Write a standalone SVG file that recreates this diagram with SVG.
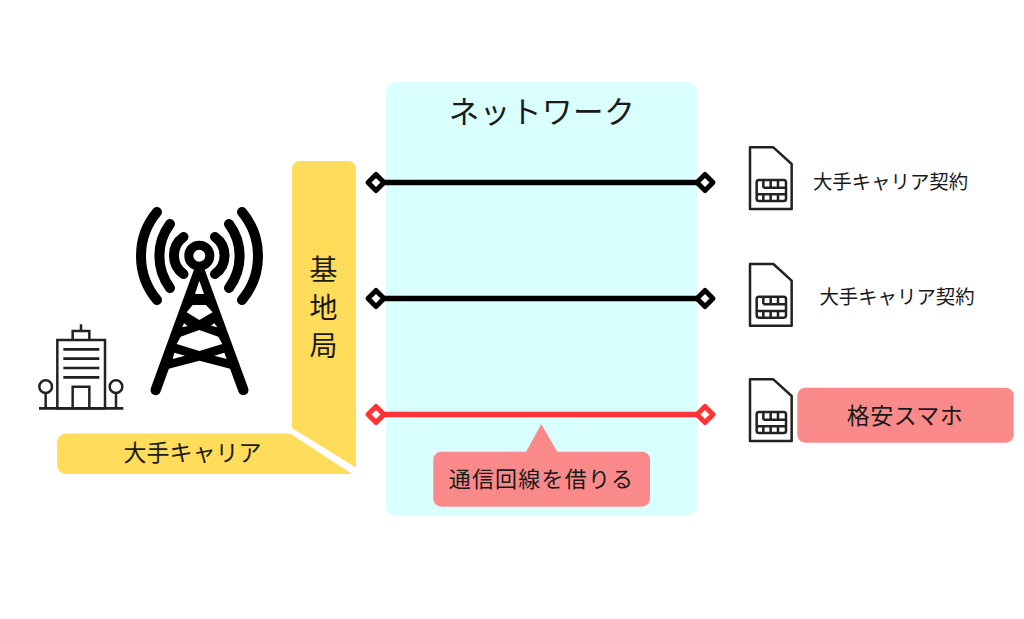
<svg xmlns="http://www.w3.org/2000/svg" xmlns:xlink="http://www.w3.org/1999/xlink" width="1024" height="619" viewBox="0 0 1024 619">
<style>
text{font-family:"Noto Sans CJK JP","Noto Sans",sans-serif;fill:#1a1a1a;text-anchor:middle}
.yellow{fill:#ffdc5a}
.pink{fill:#fa8a8a}
.line{stroke-width:5.500;fill:none}
.dia{fill:#fff;stroke-width:5;stroke-linejoin:round}
.k{stroke:#000}
.r{stroke:#ff3333}
.arc{fill:none;stroke:#000;stroke-width:10;stroke-linecap:round}
</style>
<defs>
<symbol id="sim" overflow="visible">
<path d="M180 22H250L305 72V207H180Z" transform="translate(-180 -22)" fill="#fff" stroke="#222" stroke-width="7.500" stroke-linejoin="round"/>
<g transform="translate(-180 -22)" fill="none" stroke="#222" stroke-width="7.500">
<rect x="200" y="120" width="88" height="63" rx="7"/>
<path d="M220 143H288M200 163H288M220 120V143M242 120V143M264 120V143M220 163V183M242 163V183M264 163V183"/>
</g>
</symbol>
</defs>
<rect width="1024" height="619" fill="#fff"/>
<g id="network">
<rect x="386" y="82" width="311" height="434" rx="10" fill="#d9ffff"/>
<text x="542" y="122.500" font-size="30.500" letter-spacing="0.600">ネットワーク</text>
</g>
<g id="connectors">
<path class="line k" d="M376 182.500H705M376 298.500H705"/>
<path class="line r" d="M376 414.500H705"/>
<g class="k">
<path class="dia" d="M376 174.500l8 8-8 8-8-8Z"/>
<path class="dia" d="M705 174.500l8 8-8 8-8-8Z"/>
<path class="dia" d="M376 290.500l8 8-8 8-8-8Z"/>
<path class="dia" d="M705 290.500l8 8-8 8-8-8Z"/>
</g>
<g class="r">
<path class="dia" d="M376 406.500l8 8-8 8-8-8Z"/>
<path class="dia" d="M705 406.500l8 8-8 8-8-8Z"/>
</g>
</g>
<g id="tower">
<circle cx="199.300" cy="255.700" r="10.500" fill="none" stroke="#000" stroke-width="9"/>
<path class="arc" d="M183.500 237A22.700 22.700 0 0 0 183.500 274M215 237A22.700 22.700 0 0 1 215 274"/>
<path class="arc" d="M170 224A53.500 53.500 0 0 0 170 288M229 224A53.500 53.500 0 0 1 229 288"/>
<path class="arc" d="M157 212A68.500 68.500 0 0 0 157 300M242 212A68.500 68.500 0 0 1 242 300"/>
<g transform="translate(20 190) scale(.33333)">
<path d="M538 240L407 600M538 240L670 600" fill="none" stroke="#000" stroke-width="31" stroke-linecap="round"/>
<path d="M538 235L645 540L538 512L432 540Z" fill="#000"/>
<g fill="#fff">
<path d="M538 272L552 312H525Z"/>
<path d="M518 345H558L578 367L538 390L500 367Z"/>
<path d="M492 400L503 408L487 412Z"/>
<path d="M583 400L592 412L573 407Z"/>
<path d="M538 420L595 440L607 462L538 483L470 462L482 440Z"/>
<path d="M463 488L495 497L458 507Z"/>
<path d="M583 497L613 488L620 507Z"/>
</g>
</g>
</g>
<g id="building">
<g transform="translate(20 190) scale(.33333)" fill="none" stroke="#222" stroke-width="7.500">
<rect x="112" y="450" width="143" height="205"/>
<path d="M130 478H238M130 506H238M130 534H238M130 562H238" stroke-width="8"/>
<path d="M158 655V590H208V655"/>
<path d="M158 450V423H208V450M183 423V403"/>
<path d="M57 655H310" stroke-width="8"/>
<circle cx="77" cy="590" r="19"/>
<circle cx="288" cy="590" r="19"/>
<path d="M77 609V655M288 609V655"/>
</g>
</g>
<g id="base-station">
<path class="yellow" d="M300 161H348A8 8 0 0 1 356 169V467.500L292 428V169A8 8 0 0 1 300 161Z"/>
<text x="323.500" y="280" font-size="28">基</text>
<text x="323.500" y="318" font-size="28">地</text>
<text x="323.500" y="356" font-size="28">局</text>
</g>
<g id="carrier">
<path class="yellow" d="M66 433.500H290L352 474H66A9 9 0 0 1 57 465V442.500A9 9 0 0 1 66 433.500Z"/>
<text x="192.500" y="461" font-size="23">大手キャリア</text>
</g>
<g id="sim1">
<use xlink:href="#sim" href="#sim" transform="translate(750 147.300) scale(.33333)"/>
<text x="890.500" y="188.500" font-size="19.400">大手キャリア契約</text>
</g>
<g id="sim2">
<use xlink:href="#sim" href="#sim" transform="translate(750 264) scale(.33333)"/>
<text x="897" y="303.500" font-size="19.400">大手キャリア契約</text>
</g>
<g id="sim3">
<use xlink:href="#sim" href="#sim" transform="translate(750 379.300) scale(.33333)"/>
</g>
<g id="mvno">
<rect class="pink" x="797.300" y="387.700" width="216.400" height="55" rx="8"/>
<text x="905" y="423.500" font-size="23" letter-spacing="0.400">格安スマホ</text>
</g>
<g id="callout">
<path class="pink" d="M541.300 424.300L557.300 451.700H642A8 8 0 0 1 650 459.700V498.700A8 8 0 0 1 642 506.700H441.300A8 8 0 0 1 433.300 498.700V459.700A8 8 0 0 1 441.300 451.700H526Z"/>
<text x="541.500" y="487" font-size="22" letter-spacing="1.200">通信回線を借りる</text>
</g>
</svg>
